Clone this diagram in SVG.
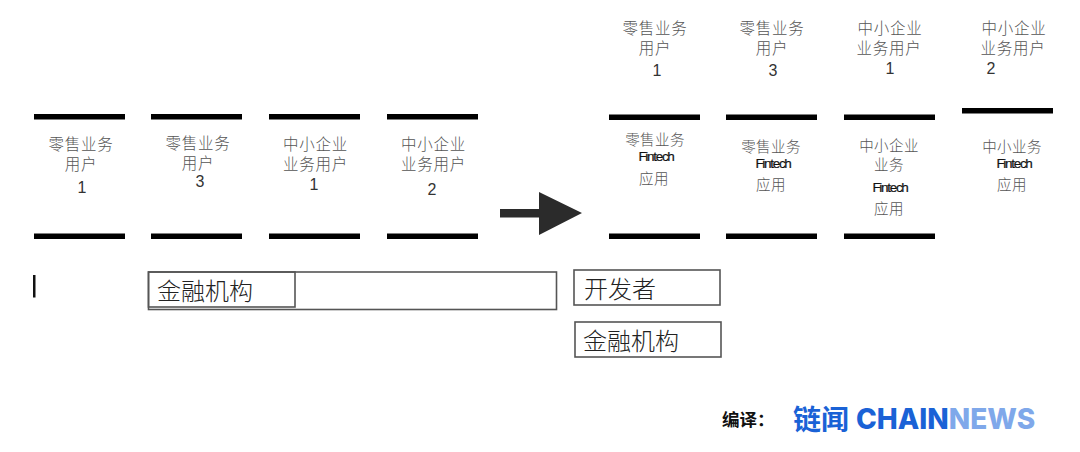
<svg xmlns="http://www.w3.org/2000/svg" width="1080" height="452" viewBox="0 0 1080 452">
<style>
text{font-family:"Noto Sans CJK SC","Liberation Sans",sans-serif;text-anchor:middle}
.t{font-size:15.5px;font-weight:300;fill:#555;letter-spacing:.8px}
.s{font-size:14.5px;font-weight:300;fill:#555;letter-spacing:.4px}
.n{font-family:"Liberation Sans",sans-serif;font-size:16px;fill:#333}
.f{font-family:"Liberation Sans",sans-serif;font-size:13.5px;fill:#111;letter-spacing:-1.3px;stroke:#111;stroke-width:.2}
.l{font-size:24px;font-weight:300;fill:#222;text-anchor:start}
.b{fill:none;stroke:#555;stroke-width:1.6}
.bar{fill:#000}
</style>
<rect width="1080" height="452" fill="#fff"/>
<g id="connectors">
<path d="M500 209H539V192L582 213 539 235V217.500H500Z" fill="#2b2b2b"/>
</g>
<g id="left-1"><rect class="bar" x="34" y="114" width="91" height="5.5"/><rect class="bar" x="34" y="233.5" width="91" height="5.5"/>
<text class="t" x="81" y="150">零售业务</text><text class="t" x="81" y="170">用户</text><text class="n" x="82" y="193">1</text></g>
<g id="left-2"><rect class="bar" x="151" y="114" width="91" height="5.5"/><rect class="bar" x="151" y="233.5" width="91" height="5.5"/>
<text class="t" x="198" y="148.5">零售业务</text><text class="t" x="198" y="168.5">用户</text><text class="n" x="200" y="187">3</text></g>
<g id="left-3"><rect class="bar" x="269" y="114" width="91" height="5.5"/><rect class="bar" x="269" y="233.5" width="91" height="5.5"/>
<text class="t" x="315.500" y="150">中小企业</text><text class="t" x="315.500" y="170">业务用户</text><text class="n" x="314" y="190">1</text></g>
<g id="left-4"><rect class="bar" x="387" y="114" width="91" height="5.5"/><rect class="bar" x="387" y="233.5" width="91" height="5.5"/>
<text class="t" x="433.500" y="150">中小企业</text><text class="t" x="433.500" y="170">业务用户</text><text class="n" x="432" y="195">2</text></g>
<g id="right-1"><rect class="bar" x="609" y="114.5" width="91" height="5.5"/><rect class="bar" x="609" y="233.5" width="91" height="5.5"/>
<text class="t" x="655" y="34">零售业务</text><text class="t" x="655" y="54">用户</text><text class="n" x="657" y="76">1</text>
<text class="s" x="655" y="145">零售业务</text><text class="f" x="656" y="161">Fintech</text><text class="s" x="654" y="184">应用</text></g>
<g id="right-2"><rect class="bar" x="726" y="114.5" width="91" height="5.5"/><rect class="bar" x="726" y="233.5" width="91" height="5.5"/>
<text class="t" x="772" y="34">零售业务</text><text class="t" x="772" y="54">用户</text><text class="n" x="773" y="76">3</text>
<text class="s" x="771" y="152">零售业务</text><text class="f" x="773" y="168">Fintech</text><text class="s" x="771" y="190">应用</text></g>
<g id="right-3"><rect class="bar" x="844" y="114.5" width="91" height="5.5"/><rect class="bar" x="844" y="233.5" width="91" height="5.5"/>
<text class="t" x="890" y="34">中小企业</text><text class="t" x="889" y="54">业务用户</text><text class="n" x="890" y="74">1</text>
<text class="s" x="889" y="151">中小企业</text><text class="s" x="889" y="170">业务</text><text class="f" x="890" y="192">Fintech</text><text class="s" x="889" y="214">应用</text></g>
<g id="right-4"><rect class="bar" x="962" y="108" width="91" height="5.5"/>
<text class="t" x="1014" y="34">中小企业</text><text class="t" x="1013" y="54">业务用户</text><text class="n" x="991" y="74">2</text>
<text class="s" x="1012" y="152">中小业务</text><text class="f" x="1014" y="168">Fintech</text><text class="s" x="1012" y="190">应用</text></g>
<g id="marker"><rect x="33" y="275" width="2.5" height="22.5" fill="#111"/></g>
<g id="platform"><rect class="b" x="148.5" y="272" width="408" height="37.5"/></g>
<g id="fin-left"><rect class="b" x="148.5" y="272" width="146.5" height="35"/><text class="l" x="157" y="300">金融机构</text></g>
<g id="dev"><rect class="b" x="574" y="270" width="146" height="35"/><text class="l" x="584" y="298">开发者</text></g>
<g id="fin-right"><rect class="b" x="575" y="322" width="146" height="35"/><text class="l" x="583" y="350">金融机构</text></g>
<g id="credit">
<text x="722" y="426" style="font-size:17.5px;font-weight:700;fill:#111;text-anchor:start">编译：</text>
<text x="793" y="430" style="font-size:28px;font-weight:700;fill:#1a62d6;text-anchor:start">链闻</text>
<text x="856" y="429" style="font-family:Inter,'Liberation Sans',sans-serif;font-size:28px;font-weight:800;fill:#1a62d6;text-anchor:start">CHAIN<tspan fill="#7fa8ea">NEWS</tspan></text>
</g>
</svg>
